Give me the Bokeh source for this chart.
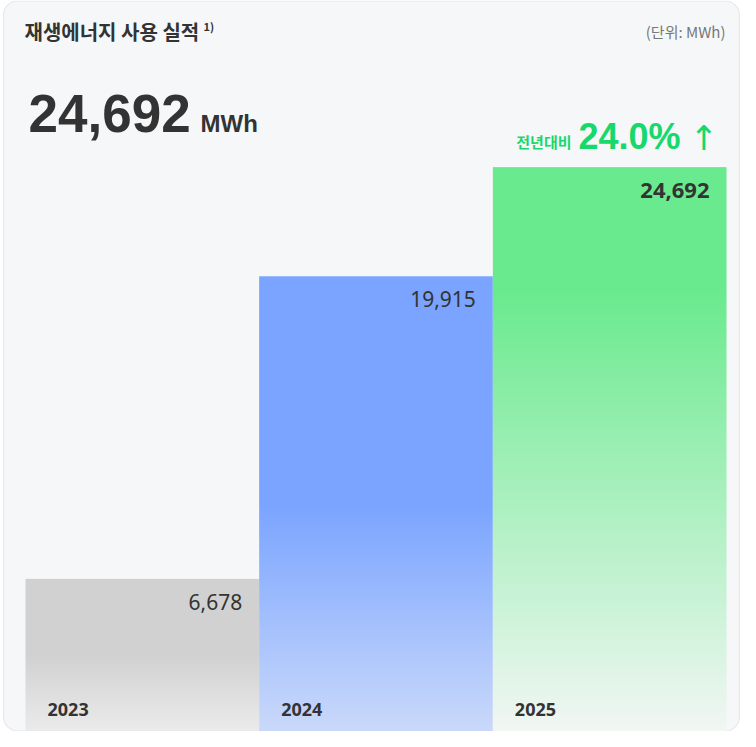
import numpy as np
from bokeh.plotting import figure
from bokeh.models import Range1d, Label, BoxAnnotation, ColumnDataSource
from bokeh.core.properties import value
from bokeh.embed import file_html
from bokeh.resources import INLINE

# ---------------- data ----------------
years = ["2023", "2024", "2025"]
usage = [6678, 19915, 24692]
value_labels = ["6,678", "19,915", "24,692"]
headline = "24,692"
headline_unit = "MWh"
yoy_label = "전년대비"
yoy_value = "24.0%"
title_text = "재생에너지 사용 실적"
title_note = "1)"
unit_note = "(단위: MWh)"

# ---------------- styles ----------------
top_colors = ["#d1d1d1", "#7aa4ff", "#6aea8e"]
bottom_colors = ["#ebebeb", "#cad9fa", "#f2f6f4"]
solid_frac = [0.5, 0.5, 0.22]
value_weights = ["normal", "normal", "bold"]
value_sizes = ["21px", "21px", "22px"]
GREEN = "#17d86a"
DARK = "#333333"

W, H = 740, 731
BAR_PX = 233.67
LEFT_PX = 25.0
MWH_PER_PX = 43.75

x0 = -0.5 - LEFT_PX / BAR_PX
p = figure(width=W, height=H, x_range=Range1d(x0, x0 + W / BAR_PX),
           y_range=Range1d(0, H * MWH_PER_PX),
           x_axis_type=None, y_axis_type=None, min_border=0,
           toolbar_location=None, output_backend="svg",
           background_fill_color="white", border_fill_color="white",
           outline_line_color=None)
p.grid.visible = False

# card
card = BoxAnnotation(left=3, right=739, bottom=0.5, top=730.5,
                     left_units="screen", right_units="screen",
                     bottom_units="screen", top_units="screen",
                     fill_color="#f6f7f9", fill_alpha=1.0,
                     line_color="#c0c0c0", line_width=1.2,
                     border_radius=14, level="underlay")
p.add_layout(card)


def hex2rgb(h):
    h = h.lstrip("#")
    return np.array([int(h[i:i + 2], 16) for i in (0, 2, 4)], dtype=float)


# bars drawn as vertical gradient images spanning [0, value]
for i, v in enumerate(usage):
    rows = max(4, int(round(v / MWH_PER_PX)))
    hfrac = (np.arange(rows) + 0.5) / rows          # 0 bottom .. 1 top
    g = 1 - solid_frac[i]
    t = np.clip(1 - hfrac / g, 0, 1)                 # 1 at bottom, 0 in solid part
    top_c, bot_c = hex2rgb(top_colors[i]), hex2rgb(bottom_colors[i])
    rgb = top_c[None, :] + (bot_c - top_c)[None, :] * t[:, None]
    img = np.zeros((rows, 2), dtype=np.uint32)
    view = img.view(dtype=np.uint8).reshape((rows, 2, 4))
    view[:, :, 0] = np.round(rgb[:, 0])[:, None]
    view[:, :, 1] = np.round(rgb[:, 1])[:, None]
    view[:, :, 2] = np.round(rgb[:, 2])[:, None]
    view[:, :, 3] = 255
    p.image_rgba(image=[img], x=i - 0.5, y=0, dw=1, dh=v)

# value labels
src = ColumnDataSource(dict(x=[i + 0.5 for i in range(len(years))], y=usage,
                            text=value_labels, weight=value_weights,
                            size=value_sizes))
p.text(x="x", y="y", text="text", source=src, x_offset=-17, y_offset=23,
       text_align="right", text_baseline="middle",
       text_font=value("Noto Sans"), text_font_size="size",
       text_font_style="weight", text_color=DARK)

# year labels
ysrc = ColumnDataSource(dict(x=[i - 0.5 for i in range(len(years))],
                             y=[0] * len(years), text=years))
p.text(x="x", y="y", text="text", source=ysrc, x_offset=22, y_offset=-22,
       text_align="left", text_baseline="middle",
       text_font=value("Noto Sans"), text_font_size="18px",
       text_font_style="bold", text_color=DARK)


def sy(page_y):
    return H - (page_y - 8)


def sx(page_x):
    return page_x - 8


def lab(text, x, y, size, color=DARK, font="Noto Sans CJK KR", style="bold",
        align="left", baseline="middle"):
    p.add_layout(Label(x=sx(x), y=sy(y), x_units="screen", y_units="screen",
                       text=text, text_font=font, text_font_size=size,
                       text_font_style=style, text_color=color,
                       text_align=align, text_baseline=baseline))


lab(title_text, 32, 39, "20px")
lab(title_note, 211, 33, "11px")
lab(unit_note, 733, 39, "15px", color="#777777", style="normal", align="right")
lab(headline, 36, 121, "53px", font="Liberation Sans")
lab(headline_unit, 208, 131, "24px", font="Liberation Sans")
lab(yoy_label, 579, 149, "15px", color=GREEN, align="right")
lab(yoy_value, 586, 144, "36px", color=GREEN, font="Liberation Sans")
lab("↑", 697, 145, "34px", color=GREEN, font="DejaVu Sans", style="normal")

open("out.html", "w").write(file_html(p, INLINE))
